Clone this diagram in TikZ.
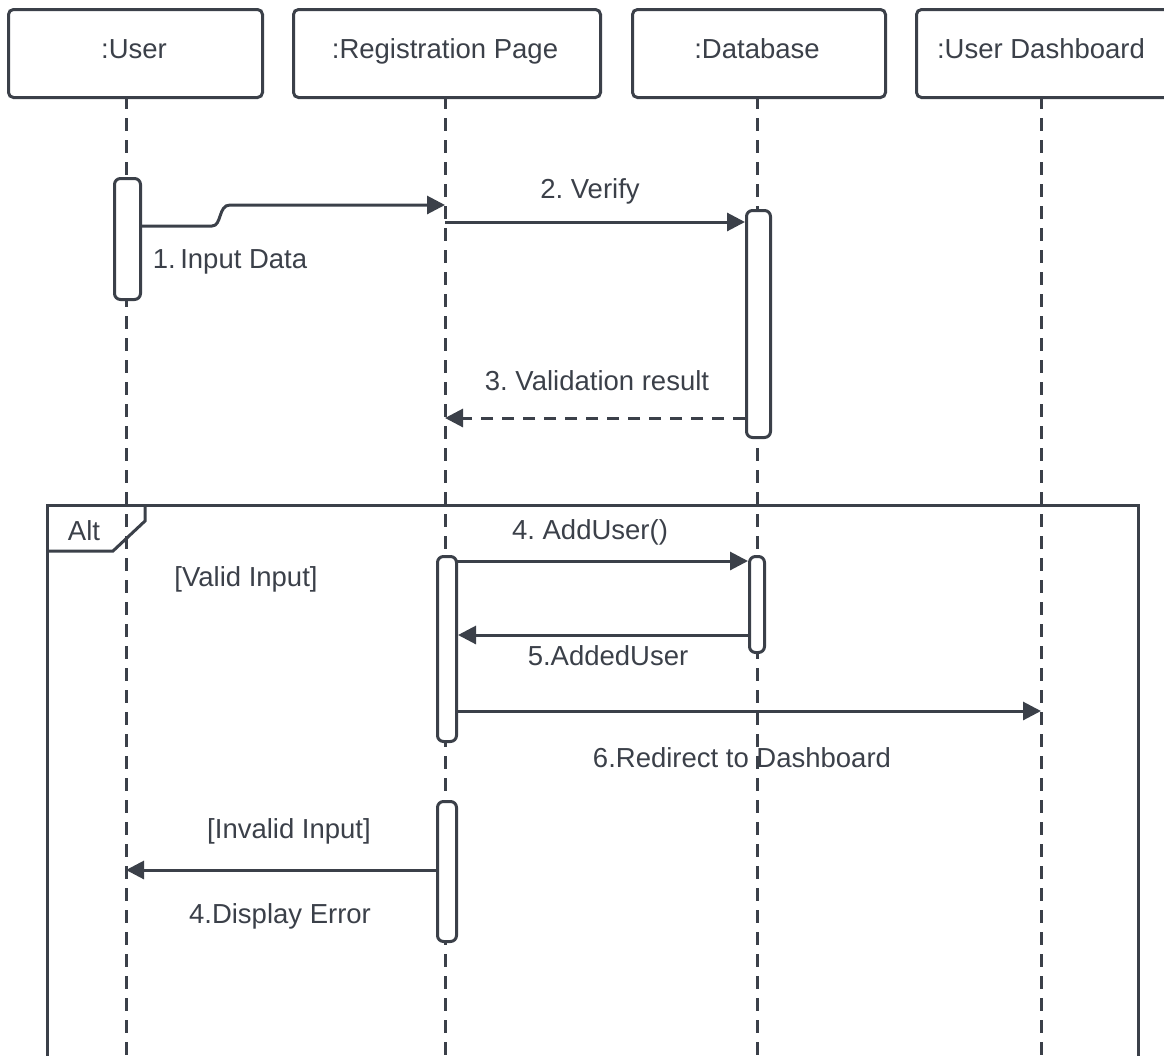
\documentclass[tikz,border=0pt]{standalone}
\usepackage{fontspec}
\setmainfont{Liberation Sans}
\usetikzlibrary{arrows.meta}
\definecolor{ink}{HTML}{3B4049}
\begin{document}
\frenchspacing
\begin{tikzpicture}[x=1pt,y=-1pt,
  line width=3pt, draw=ink,
  txt/.style={font=\fontsize{27.5}{30}\selectfont, text=ink, inner sep=0pt, anchor=base},
  headbox/.style={draw=ink, fill=white, rounded corners=5pt, line width=3pt,
    minimum height=88pt, inner sep=0pt, anchor=north west},
  bar/.style={draw=ink, fill=white, rounded corners=6pt, line width=3pt,
    inner sep=0pt, anchor=north west},
  life/.style={draw=ink, line width=3pt, dash pattern=on 13pt off 9pt},
  msg/.style={draw=ink, line width=3pt, -{Triangle[length=18pt,width=18pt]}},
  reply/.style={msg, dash pattern=on 12pt off 9pt}
]
\useasboundingbox (0,0) rectangle (1164,1055);
\begin{scope}
\clip (0,0) rectangle (1164,1055);

% lifeline heads
\node[headbox, minimum width=254pt] (hu) at (7,8) {};
\node[headbox, minimum width=307pt] (hr) at (292,8) {};
\node[headbox, minimum width=253pt] (hd) at (631,8) {};
\node[headbox, minimum width=260pt] (hb) at (915,8) {};
\node[txt] (tu) at (134,58) {:User};
\node[txt] (tr) at (445,58) {:Registration Page};
\node[txt] (td) at (757,58) {:Database};
\node[txt] (tb) at (1041,58) {:User Dashboard};

% lifeline ends
\coordinate (eu) at (126,1060);
\coordinate (er) at (445,1060);
\coordinate (ed) at (757,1060);
\coordinate (eb) at (1041,1060);
\coordinate (su) at (126,96);
\coordinate (sr) at (445,96);
\coordinate (sd) at (757,96);
\coordinate (sb) at (1041,96);
\draw[life] (su) -- (eu);
\draw[life] (sr) -- (er);
\draw[life] (sd) -- (ed);
\draw[life] (sb) -- (eb);

% alt frame
\coordinate (fa) at (47,1060);
\coordinate (fb) at (47,505);
\coordinate (fc) at (1138,505);
\coordinate (fd) at (1138,1060);
\draw (fa) -- (fb) -- (fc) -- (fd);
\coordinate (ta) at (47,551);
\coordinate (tb) at (113,551);
\coordinate (tc) at (145,521);
\coordinate (td2) at (145,505);
\draw (ta) -- (tb) -- (tc) -- (td2);
\node[txt] (alt) at (84,540) {Alt};

% activation bars
\node[bar, minimum width=26pt, minimum height=121pt] (bu) at (113,177) {};
\node[bar, minimum width=24pt, minimum height=227pt] (bd1) at (745,209) {};
\node[bar, minimum width=19pt, minimum height=185pt] (br1) at (436,555) {};
\node[bar, minimum width=15pt, minimum height=96pt] (bd2) at (748,555) {};
\node[bar, minimum width=19pt, minimum height=140pt] (br2) at (436,800) {};

% messages
\coordinate (m1a) at (139,226);
\coordinate (m1b) at (445,205);
\draw[msg] (m1a) -- (212,226) .. controls (222,226) and (218,205) .. (230,205) -- (m1b);
\node[txt] (l1) at (230,268) {1.\,Input Data};

\coordinate (m2a) at (445,222);
\draw[msg] (m2a) -- (bd1.west |- m2a);
\node[txt] (l2) at (590,198) {2. Verify};

\coordinate (m3a) at (745,418);
\coordinate (m3b) at (445,418);
\draw[reply] (m3a) -- (m3b);
\node[txt] (l3) at (597,390) {3. Validation result};

\node[txt] (g1) at (246,586) {[Valid Input]};

\coordinate (m4a) at (455,561);
\draw[msg] (m4a) -- (bd2.west |- m4a);
\node[txt] (l4) at (590,539) {4. AddUser()};

\coordinate (m5a) at (748,635);
\draw[msg] (m5a) -- (br1.east |- m5a);
\node[txt] (l5) at (608,665) {5.AddedUser};

\coordinate (m6a) at (455,711);
\coordinate (m6b) at (1041,711);
\draw[msg] (m6a) -- (m6b);
\node[txt] (l6) at (742,767) {6.Redirect to Dashboard};

\node[txt] (g2) at (289,838) {[Invalid Input]};

\coordinate (m7a) at (436,870);
\coordinate (m7b) at (126,870);
\draw[msg] (m7a) -- (m7b);
\node[txt] (l7) at (280,923) {4.Display Error};
\end{scope}
\end{tikzpicture}
\end{document}
